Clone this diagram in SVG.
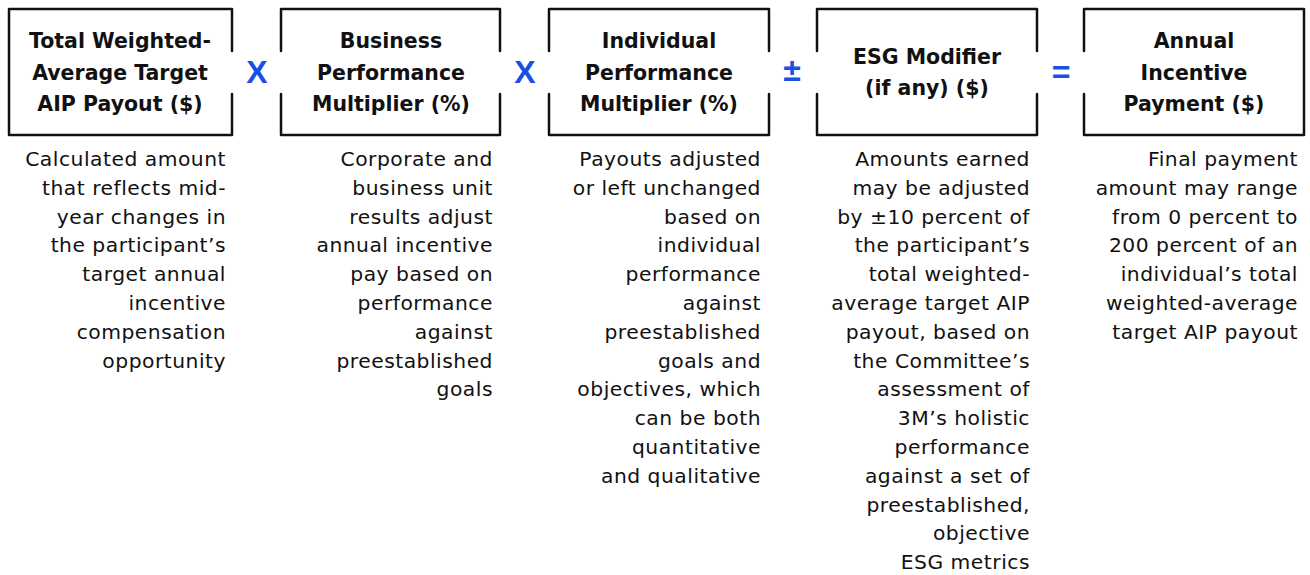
<svg xmlns="http://www.w3.org/2000/svg" width="1310" height="575" viewBox="0 0 1310 575">
<style>
.box{fill:none;stroke:#111;stroke-width:2.5;stroke-linejoin:round;stroke-linecap:round}
.hd{font-family:"DejaVu Sans",sans-serif;font-weight:bold;font-size:20.5px;fill:#111;text-anchor:middle}
.ds{font-family:"DejaVu Sans",sans-serif;font-size:20.3px;letter-spacing:0.5px;fill:#111;text-anchor:end}
.op{font-family:"Liberation Sans",Arial,sans-serif;font-weight:bold;font-size:32px;fill:#1a4fe6;text-anchor:middle}
</style>
<rect width="1310" height="575" fill="#fff"/>
<g id="node1">
<path class="box" d="M232 51 V9 H9 V135 H232 V94"/>
<text class="hd" x="120" y="48">Total Weighted-</text>
<text class="hd" x="120" y="80">Average Target</text>
<text class="hd" x="120" y="111">AIP Payout ($)</text>
<text class="ds"><tspan x="226" y="166">Calculated amount</tspan><tspan x="226" y="194.8">that reflects mid-</tspan><tspan x="226" y="223.6">year changes in</tspan><tspan x="226" y="252.4">the participant’s</tspan><tspan x="226" y="281.2">target annual</tspan><tspan x="226" y="310">incentive</tspan><tspan x="226" y="338.8">compensation</tspan><tspan x="226" y="367.6">opportunity</tspan></text>
</g>
<g id="node2">
<path class="box" d="M281 51 V9 H500 V51 M500 94 V135 H281 V94"/>
<text class="hd" x="391" y="48">Business</text>
<text class="hd" x="391" y="80">Performance</text>
<text class="hd" x="391" y="111">Multiplier (%)</text>
<text class="ds"><tspan x="493" y="166">Corporate and</tspan><tspan x="493" y="194.8">business unit</tspan><tspan x="493" y="223.6">results adjust</tspan><tspan x="493" y="252.4">annual incentive</tspan><tspan x="493" y="281.2">pay based on</tspan><tspan x="493" y="310">performance</tspan><tspan x="493" y="338.8">against</tspan><tspan x="493" y="367.6">preestablished</tspan><tspan x="493" y="396.4">goals</tspan></text>
</g>
<g id="node3">
<path class="box" d="M549 51 V9 H769 V51 M769 94 V135 H549 V94"/>
<text class="hd" x="659" y="48">Individual</text>
<text class="hd" x="659" y="80">Performance</text>
<text class="hd" x="659" y="111">Multiplier (%)</text>
<text class="ds"><tspan x="761" y="166">Payouts adjusted</tspan><tspan x="761" y="194.8">or left unchanged</tspan><tspan x="761" y="223.6">based on</tspan><tspan x="761" y="252.4">individual</tspan><tspan x="761" y="281.2">performance</tspan><tspan x="761" y="310">against</tspan><tspan x="761" y="338.8">preestablished</tspan><tspan x="761" y="367.6">goals and</tspan><tspan x="761" y="396.4">objectives, which</tspan><tspan x="761" y="425.2">can be both</tspan><tspan x="761" y="454">quantitative</tspan><tspan x="761" y="482.8">and qualitative</tspan></text>
</g>
<g id="node4">
<path class="box" d="M817 51 V9 H1037 V51 M1037 94 V135 H817 V94"/>
<text class="hd" x="927" y="64">ESG Modifier</text>
<text class="hd" x="927" y="95">(if any) ($)</text>
<text class="ds"><tspan x="1030" y="166">Amounts earned</tspan><tspan x="1030" y="194.8">may be adjusted</tspan><tspan x="1030" y="223.6">by ±10 percent of</tspan><tspan x="1030" y="252.4">the participant’s</tspan><tspan x="1030" y="281.2">total weighted-</tspan><tspan x="1030" y="310">average target AIP</tspan><tspan x="1030" y="338.8">payout, based on</tspan><tspan x="1030" y="367.6">the Committee’s</tspan><tspan x="1030" y="396.4">assessment of</tspan><tspan x="1030" y="425.2">3M’s holistic</tspan><tspan x="1030" y="454">performance</tspan><tspan x="1030" y="482.8">against a set of</tspan><tspan x="1030" y="511.6">preestablished,</tspan><tspan x="1030" y="540.4">objective</tspan><tspan x="1030" y="569.2">ESG metrics</tspan></text>
</g>
<g id="node5">
<path class="box" d="M1084 51 V9 H1304 V135 H1084 V94"/>
<text class="hd" x="1194" y="48">Annual</text>
<text class="hd" x="1194" y="80">Incentive</text>
<text class="hd" x="1194" y="111">Payment ($)</text>
<text class="ds"><tspan x="1298" y="166">Final payment</tspan><tspan x="1298" y="194.8">amount may range</tspan><tspan x="1298" y="223.6">from 0 percent to</tspan><tspan x="1298" y="252.4">200 percent of an</tspan><tspan x="1298" y="281.2">individual’s total</tspan><tspan x="1298" y="310">weighted-average</tspan><tspan x="1298" y="338.8">target AIP payout</tspan></text>
</g>
<g id="connectors">
<text class="op" x="257" y="83">X</text>
<text class="op" x="525" y="83">X</text>
<text class="op" x="792" y="81">±</text>
<text class="op" x="1061" y="83">=</text>
</g>
</svg>
